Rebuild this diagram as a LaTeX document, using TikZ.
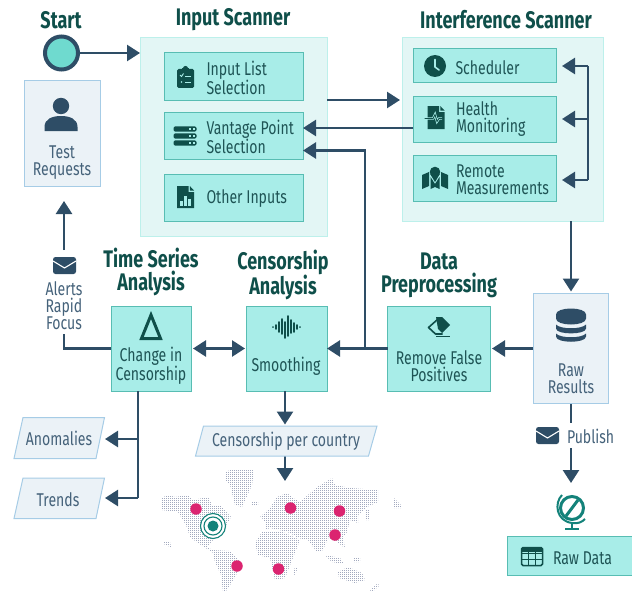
\documentclass[tikz,border=0pt]{standalone}
\usepackage{fontspec}
\usetikzlibrary{arrows.meta,calc}
\newfontfamily\bodyf[FakeStretch=0.76]{Fira Sans}
\newfontfamily\titlef[FakeStretch=0.75,BoldFont={Fira Sans Bold}]{Fira Sans}
\definecolor{navy}{HTML}{2E4D66}
\definecolor{dteal}{HTML}{0F4F4A}
\definecolor{gteal}{HTML}{14827A}
\definecolor{startfill}{HTML}{6FDACF}
\definecolor{boxfill}{HTML}{A8EDE8}
\definecolor{boxline}{HTML}{58BDB3}
\definecolor{panelfill}{HTML}{E3F6F5}
\definecolor{panelline}{HTML}{BDF0EB}
\definecolor{bluefill}{HTML}{EBF2F7}
\definecolor{blueline}{HTML}{A6CCE6}
\definecolor{bluetext}{HTML}{45627A}
\definecolor{tealtext}{HTML}{1E5455}
\definecolor{pinkdot}{HTML}{DB2470}
\definecolor{mapdot}{HTML}{A2A9BE}
\tikzset{
  base/.style={outer sep=0pt,inner sep=0pt},
  panel/.style={base,draw=panelline,fill=panelfill,line width=1pt},
  tbox/.style={base,draw=boxline,fill=boxfill,line width=1pt},
  bbox/.style={base,draw=blueline,fill=bluefill,line width=1pt},
  para/.style={draw=blueline,fill=bluefill,line width=1pt},
  ttl/.style={base,align=center,text=dteal,font=\titlef\bfseries\fontsize{24}{23}\selectfont},
  ttxt/.style={base,align=left,text=tealtext,font=\bodyf\fontsize{18.5}{17}\selectfont},
  btxt/.style={base,align=center,text=bluetext,font=\bodyf\fontsize{18.5}{17}\selectfont},
  conn/.style={draw=navy,line width=2.6pt},
  arr/.style={conn,-{Triangle[length=13pt,width=16pt]}},
  darr/.style={conn,{Triangle[length=13pt,width=16pt]}-{Triangle[length=13pt,width=16pt]}},
  pinkpt/.style={base,circle,fill=pinkdot,minimum size=11.5pt},
  iconperson/.pic={
    \fill[navy] (0,-12) circle (8.2);
    \fill[navy] (-16.5,13) -- (-16.5,9) .. controls (-16.5,1) and (-9,-2) .. (0,-2) .. controls (9,-2) and (16.5,1) .. (16.5,9) -- (16.5,13) -- cycle;
  },
  iconmail/.pic={
    \fill[navy,rounded corners=2.5pt] (-11.5,-8.5) rectangle (11.5,8.5);
    \draw[white,line width=1.1pt] (-11.5,-4.5) -- (0,2.5) -- (11.5,-4.5);
  },
  iconclip/.pic={
    \fill[dteal,rounded corners=1.5pt] (-8.5,-8) rectangle (8.5,11);
    \fill[dteal] (0,-8.5) circle (2.6);
    \fill[dteal] (-3.5,-9) rectangle (3.5,-6);
    \draw[boxfill,line width=.9pt] (-5.5,-2) -- (-4,-.5) -- (-2,-3.5);
    \draw[boxfill,line width=.9pt] (-.5,-1) -- (5.5,-1) (-.5,5) -- (5.5,5);
    \fill[boxfill] (-4,5) circle (.9);
  },
  iconserver/.pic={
    \foreach \yy in {-7,0,7}{
      \fill[dteal,rounded corners=1.5pt] (-11.5,\yy-2.7) rectangle (11.5,\yy+2.7);
      \fill[boxfill] (4,\yy-.7) rectangle (6,\yy+.7);
      \fill[boxfill] (7.5,\yy-.7) rectangle (9.5,\yy+.7);
    }
  },
  iconfile/.pic={
    \fill[dteal] (-8.5,-11) -- (3,-11) -- (3,-5) -- (8.5,-5) -- (8.5,11) -- (-8.5,11) -- cycle;
    \fill[dteal] (4.3,-11) -- (8.5,-6.5) -- (4.3,-6.5) -- cycle;
    \fill[boxfill] (-5.5,4) rectangle (-2.5,9);
    \fill[boxfill] (-1.5,-1) rectangle (1.5,9);
    \fill[boxfill] (2.5,2) rectangle (5.5,9);
  },
  iconclock/.pic={
    \fill[dteal] (0,0) circle (11);
    \draw[boxfill,line width=1.6pt,line cap=round,line join=round] (0,-6.5) -- (0,1) -- (4,4);
  },
  iconhealth/.pic={
    \fill[dteal] (-8.5,-11.5) -- (3,-11.5) -- (3,-5.5) -- (8.5,-5.5) -- (8.5,11.5) -- (-8.5,11.5) -- cycle;
    \fill[dteal] (4.3,-11.5) -- (8.5,-7) -- (4.3,-7) -- cycle;
    \draw[boxfill,line width=2.4pt] (-11,1) -- (-3,1) -- (-1,-3) -- (1,4) -- (3,1) -- (6,1);
    \draw[dteal,line width=.9pt] (-11.5,1) -- (-3,1) -- (-1,-3) -- (1,4) -- (3,1) -- (6.5,1);
  },
  iconmap/.pic={
    \fill[dteal] (-13,-3) -- (-6,-6) -- (-6,8) -- (-13,11) -- cycle;
    \fill[dteal] (13,-3) -- (6,-6) -- (6,8) -- (13,11) -- cycle;
    \fill[dteal] (-4.5,-1) -- (0,6) -- (4.5,-1) -- (4.5,11) -- (0,9) -- (-4.5,11) -- cycle;
    \fill[dteal] (0,-6) circle (5.3);
    \fill[dteal] (-4.8,-4) -- (0,4) -- (4.8,-4) -- cycle;
  },
  icondelta/.pic={
    \draw[dteal,line width=3pt,miter limit=10] (0,-11.5) -- (9.5,12) -- (-9.5,12) -- cycle;
  },
  iconwave/.pic={
    \draw[dteal,line width=1.7pt,line cap=round]
      (-13,0) -- (-13,0.1) (-10,-2) -- (-10,2) (-7,-5) -- (-7,5) (-4,-8) -- (-4,7)
      (-1,-5) -- (-1,11) (2,-11) -- (2,9) (5,-7) -- (5,6) (8,-4) -- (8,5) (11,-2) -- (11,2) (14,0) -- (14,.1);
  },
  iconeraser/.pic={
    \fill[dteal] (-3,-10) -- (3,-10) -- (11,-2) -- (3,6) -- (-1,2) -- cycle;
    \draw[dteal,line width=1.6pt,line join=round] (-1.5,-7.5) -- (-10.5,0.5) -- (-3.5,7) -- (3.5,7);
    \fill[dteal] (-3,8.8) rectangle (11,10.3);
  },
  icondb/.pic={
    \fill[navy] (-15,-11) .. controls (-15,-19) and (15,-19) .. (15,-11) -- (15,-7) .. controls (15,1) and (-15,1) .. (-15,-7) -- cycle;
    \fill[navy] (-15,-1) .. controls (-11,4) and (11,4) .. (15,-1) -- (15,3) .. controls (15,9.5) and (-15,9.5) .. (-15,3) -- cycle;
    \fill[navy] (-15,8) .. controls (-11,13) and (11,13) .. (15,8) -- (15,11) .. controls (15,18) and (-15,18) .. (-15,11) -- cycle;
  },
  iconglobe/.pic={
    \draw[gteal,line width=3pt] (1,-3) circle (11.5);
    \draw[gteal,line width=3pt] (-5,5) -- (7,-11);
    \draw[gteal,line width=2pt] (-9,-16) .. controls (-17,-8) and (-15,10) .. (1,12) .. controls (7,13) and (11,11) .. (14,8);
    \draw[gteal,line width=2.6pt] (1,12) -- (1,17);
    \draw[gteal,line width=2.4pt] (-6,18) -- (8,18);
  },
  icontable/.pic={
    \draw[dteal,line width=1.5pt,rounded corners=1.5pt] (-10.5,-9) rectangle (10.5,9);
    \fill[dteal] (-10.5,-9) rectangle (10.5,-4.5);
    \draw[dteal,line width=1.3pt] (-10.5,-3) -- (10.5,-3) (-10.5,3) -- (10.5,3) (-3.5,-9) -- (-3.5,9) (3.5,-9) -- (3.5,9);
  }
}
\begin{document}
\begin{tikzpicture}[x=1pt,y=-1pt]
\useasboundingbox (0,0) rectangle (632,594);
% world map (dotted by rows, clipped to the land masses)
\begin{scope}
\clip
 (161,498) -- (168,495) -- (175,497) -- (188,495) -- (193,500) -- (208,497) -- (212,505) -- (220,505) -- (231,517) -- (225,527) -- (214,539) -- (207,547) -- (216,552) -- (212,552) -- (198,543) -- (190,537) -- (186,525) -- (178,512) -- (162,510) -- cycle
 (212,550) -- (230,551) -- (242,563) -- (235,577) -- (227,590) -- (223,592) -- (221,575) -- (215,562) -- cycle
 (225,472) -- (233,469) -- (254,469) -- (252,485) -- (242,507) -- (235,505) -- (230,485) -- (225,480) -- cycle
 (251,502) -- (258,502) -- (258,505) -- (251,505) -- cycle
 (163,542) -- (170,542) -- (171,547) -- (165,545) -- cycle
 (260,517) -- (270,508) -- (277,497) -- (287,493) -- (293,498) -- (300,502) -- (317,487) -- (332,478) -- (335,485) -- (350,488) -- (378,490) -- (378,502) -- (367,507) -- (358,515) -- (358,523) -- (350,520) -- (347,532) -- (343,537) -- (345,548) -- (337,542) -- (328,538) -- (323,550) -- (317,552) -- (308,540) -- (298,538) -- (290,533) -- (283,531) -- (270,528) -- (265,530) -- (265,522) -- (262,518) -- cycle
 (255,543) -- (262,532) -- (283,532) -- (300,540) -- (292,560) -- (285,578) -- (275,580) -- (270,558) -- (258,555) -- cycle
 (295,567) -- (298,567) -- (295,575) -- (293,573) -- cycle
 (338,572) -- (348,567) -- (362,573) -- (365,580) -- (355,583) -- (339,578) -- cycle
 (325,555) -- (340,558) -- (344,564) -- (332,562) -- cycle
 (353,557) -- (360,557) -- (360,562) -- (354,562) -- cycle
 (370,590) -- (378,583) -- (379,586) -- (372,592) -- cycle
 (394,498) -- (401,505) -- (401,508) -- (394,508) -- cycle
 (366,510) -- (369,510) -- (369,520) -- (366,520) -- cycle;
\foreach \yy in {468.5,470.5,...,594.5}
  \draw[mapdot,line width=1.3pt,dash pattern=on 1.3pt off .7pt] (160,\yy) -- (404,\yy);
\end{scope}
% panels
\node[panel,minimum width=187pt,minimum height=198pt] (inputpanel) at (233.5,137) {};
\node[panel,minimum width=201pt,minimum height=183pt] (intfpanel) at (502.5,129.5) {};
% titles
\node[ttl] (tstart) at (61,20) {Start};
\node[ttl] (tinput) at (233,20) {Input Scanner};
\node[ttl] (tintf) at (506,20) {Interference Scanner};
\node[ttl] (ttime) at (151,272) {Time Series\\Analysis};
\node[ttl] (tcens) at (283,275) {Censorship\\Analysis};
\node[ttl] (tdata) at (439,275) {Data\\Preprocessing};
% start and test requests
\node[base,circle,draw=navy,fill=startfill,line width=4pt,minimum size=33pt] (start) at (61.5,53) {};
\node[bbox,minimum width=76pt,minimum height=105pt] (test) at (62,133.5) {};
\pic at (61,118) {iconperson};
\node[btxt] (ltest) at (62,163) {Test\\Requests};
% input boxes
\node[tbox,minimum width=139pt,minimum height=47pt] (listbox) at (233.5,76.5) {};
\node[tbox,minimum width=139pt,minimum height=47pt] (vantage) at (233.5,135.5) {};
\node[tbox,minimum width=139pt,minimum height=47pt] (other) at (233.5,197.5) {};
\pic at (185.5,77) {iconclip};
\pic at (185,136) {iconserver};
\pic at (185.5,197) {iconfile};
\node[ttxt,anchor=west] (llist) at (206.5,78) {Input List\\Selection};
\node[ttxt,anchor=west] (lvant) at (206.5,137) {Vantage Point\\Selection};
\node[ttxt,anchor=west] (loth) at (206.5,199) {Other Inputs};
% interference boxes
\node[tbox,minimum width=143pt,minimum height=34pt] (sched) at (484.5,66) {};
\node[tbox,minimum width=143pt,minimum height=46pt] (health) at (484.5,119) {};
\node[tbox,minimum width=143pt,minimum height=46pt] (remote) at (484.5,178) {};
\pic at (435,66) {iconclock};
\pic at (436,117.5) {iconhealth};
\pic at (435,178) {iconmap};
\node[ttxt,anchor=west] (lsch) at (455.5,68) {Scheduler};
\node[ttxt,anchor=west] (lhea) at (456,119) {Health\\Monitoring};
\node[ttxt,anchor=west] (lrem) at (456,180) {Remote\\Measurements};
% processing row
\node[tbox,minimum width=80pt,minimum height=85pt] (change) at (151,348.5) {};
\node[tbox,minimum width=81pt,minimum height=85pt] (smooth) at (286.5,348.5) {};
\node[tbox,minimum width=103pt,minimum height=85pt] (remove) at (439,348.5) {};
\pic at (151,326.5) {icondelta};
\pic at (286,327) {iconwave};
\pic at (439,327) {iconeraser};
\node[ttxt,align=center] (lcha) at (151,366) {Change in\\Censorship};
\node[ttxt,align=center] (lsmo) at (286,366) {Smoothing};
\node[ttxt,align=center] (lrmv) at (439,366) {Remove False\\Positives};
% raw results
\node[bbox,minimum width=75pt,minimum height=110pt] (raw) at (570.5,348.5) {};
\pic at (571,325.5) {icondb};
\node[btxt] (lraw) at (571,379) {Raw\\Results};
% alerts
\pic at (64.5,265.5) {iconmail};
\node[btxt] (alerts) at (64,305.5) {Alerts\\Rapid\\Focus};
% publish + raw data
\pic at (547.5,435.5) {iconmail};
\node[btxt,anchor=west] (lpub) at (567,436.5) {Publish};
\pic at (571,511) {iconglobe};
\node[tbox,minimum width=127pt,minimum height=39pt] (rawdata) at (570.5,555.5) {};
\pic at (532,556.5) {icontable};
\node[ttxt,anchor=west] (lrd) at (553,558) {Raw Data};
% map markers
\node[pinkpt] (p1) at (196,509) {};
\node[pinkpt] (p2) at (290.5,508) {};
\node[pinkpt] (p3) at (339.5,511) {};
\node[pinkpt] (p4) at (335,535) {};
\node[pinkpt] (p5) at (237,566) {};
\node[pinkpt] (p6) at (278.5,569) {};
\node[base,circle,draw=gteal,fill=white,line width=1.1pt,minimum size=25pt] (t1) at (213,526) {};
\node[base,circle,draw=gteal,fill=white,line width=1.1pt,minimum size=18pt] (t2) at (213,526) {};
\node[base,circle,fill=gteal,minimum size=11pt] (t3) at (213,526) {};
% connector helper coordinates
\coordinate (hm) at (413,128);
\coordinate (vp2) at (365,150.5);
\coordinate (jn) at (365,348.5);
\coordinate (inout) at (327,100);
\coordinate (b1) at (588,66);
\coordinate (b2) at (588,119);
\coordinate (b3) at (588,180);
\coordinate (intfout) at (571,221);
\coordinate (up1) at (64,250);
\coordinate (up2) at (64,334);
\coordinate (cor) at (64,348.5);
\coordinate (brA) at (138,439);
\coordinate (brB) at (138,498);
\coordinate (aA) at (105,439);
\coordinate (aB) at (105,498);
\coordinate (chgout) at (138,391);
\coordinate (smoA) at (285,424.5);
\coordinate (smoB) at (285,456);
\coordinate (smoC) at (285,481);
\coordinate (smoO) at (285,391);
\coordinate (pub1) at (571,404);
\coordinate (pub2) at (571,423);
\coordinate (pub3) at (571,448);
\coordinate (pub4) at (571,483);
% connectors
\draw[arr] (start.east) -- (inputpanel.west |- start.east);
\draw[arr,shorten >=15pt] (up1) -- (test.south -| up1);
\draw[conn] (up2) -- (cor) -- (change.west |- cor);
\draw[arr] (inout) -- ($(intfpanel.west |- inout)+(-2,0)$);
\draw[arr] (hm) -- (vantage.east |- hm);
\draw[arr] (jn) -- (vp2) -- (vantage.east |- vp2);
\draw[conn] (b1) -- (b3);
\draw[arr] (b1) -- ($(sched.east |- b1)+(6,0)$);
\draw[arr] (b2) -- ($(health.east |- b2)+(6,0)$);
\draw[arr] (b3) -- ($(remote.east |- b3)+(6,0)$);
\draw[arr] (intfout) -- ($(raw.north -| intfout)+(0,-2)$);
\draw[arr] (raw.west |- remove.east) -- ($(remove.east)+(1.5,0)$);
\draw[arr] (remove.west) -- (smooth.east);
\draw[darr] ($(change.east)+(2,0)$) -- ($(smooth.west)+(-1,0)$);
\draw[conn] (chgout) -- (brB);
\draw[arr] (brA) -- (aA);
\draw[arr] (brB) -- (aB);
\draw[arr] (smoO) -- (smoA);
\draw[arr] (smoB) -- (smoC);
\draw[conn] (pub1) -- (pub2);
\draw[arr] (pub3) -- (pub4);
% parallelograms with their labels
\draw[para] (23,417.5) -- (104.5,417.5) -- (96,458.5) -- (14,458.5) -- cycle;
\draw[para] (23,478) -- (104.5,478) -- (96,518.5) -- (14,518.5) -- cycle;
\draw[para] (203.5,426) -- (377,426) -- (368.5,456) -- (195.5,456) -- cycle;
\node[btxt] (lano) at (59,438.5) {Anomalies};
\node[btxt] (ltre) at (58,499.5) {Trends};
\node[btxt] (lcpc) at (286,441.5) {Censorship per country};
\end{tikzpicture}
\end{document}
